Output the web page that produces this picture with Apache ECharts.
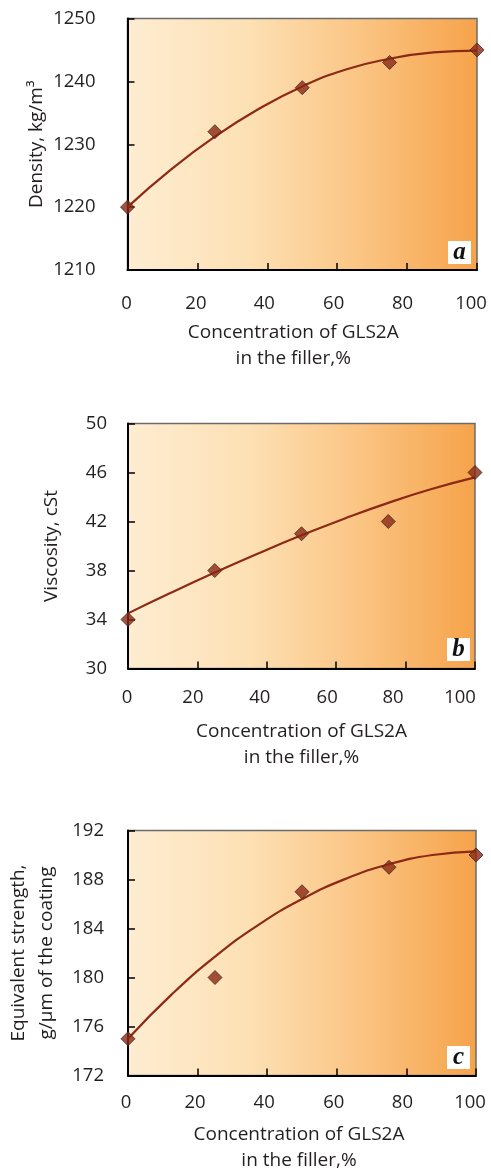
<!DOCTYPE html>
<html>
<head>
<meta charset="utf-8">
<script src="https://cdn.jsdelivr.net/npm/echarts@6/dist/echarts.min.js"></script>
<style>
  html, body { margin: 0; padding: 0; background: #fff; }
  #container { width: 491px; height: 1168px; }
</style>
</head>
<body>
<div id="container"></div>
<script>
const conc = [0, 25, 50, 75, 100]
const density = [1220, 1232, 1239, 1243, 1245]
const viscosity = [34, 38, 41, 42, 46]
const strength = [175, 180, 187, 189, 190]

// fitted trend curves
const fitConc = [0, 12.5, 25, 37.5, 50, 62.5, 75, 87.5, 100]
const densityFit = [1220, 1226.0, 1231.2, 1235.6, 1239.2, 1241.9, 1243.6, 1244.6, 1244.9]
const viscosityFit = [34.5, 36.2, 37.83, 39.39, 40.87, 42.25, 43.52, 44.65, 45.6]
const strengthFit = [175.0, 178.6, 181.7, 184.3, 186.4, 188.05, 189.25, 190.0, 190.3]

const xTicks = [0, 20, 40, 60, 80, 100]
const panels = ['a', 'b', 'c']
const xName = 'Concentration of GLS2A\nin the filler,%'
const yNames = ['Density, kg/m³', 'Viscosity, cSt', 'Equivalent strength,\ng/µm of the coating']

const dom = document.getElementById('container')
const myChart = echarts.init(dom)

const font = '"Open Sans", "Noto Sans", sans-serif'
const ink = '#231f20'
const lineColor = '#8c2a16'

const bg = new echarts.graphic.LinearGradient(0, 0, 1, 0, [
    { offset: 0, color: '#feedd2' },
    { offset: 0.35, color: '#fde0b4' },
    { offset: 0.65, color: '#fbc686' },
    { offset: 1, color: '#f6a34a' }
])

const grids = [
    { left: 127.5, right: 14, top: 18.5, height: 251.5 },
    { left: 128, right: 16, top: 423.5, height: 245 },
    { left: 128, right: 15, top: 830.5, height: 245 }
].map(g => ({
    ...g,
    show: true,
    outerBoundsMode: 'none',
    containLabel: false,
    backgroundColor: bg,
    borderColor: '#6b6b6b',
    borderWidth: 1.5
}))

// the printed tick labels sit a little left of their ticks (px, per tick)
const labelShift = [
    [1, 1.5, 3, 3.5, 4.5, 6],
    [1, 4.5, 7, 9, 12.5, 15],
    [2, 2.5, 3, 3, 4, 6]
]

function xAxis(i, labelMargin, nameGap, shift) {
    const rich = {}
    labelShift[i].forEach((s, k) => {
        rich['t' + k] = {
            color: ink, fontFamily: font, fontSize: 18.5,
            padding: [0, s * 2, 0, 0]
        }
    })
    return {
        type: 'value',
        gridIndex: i,
        min: xTicks[0],
        max: xTicks[xTicks.length - 1],
        interval: 20,
        name: xName,
        nameLocation: 'middle',
        nameGap: nameGap,
        nameTextStyle: {
            color: ink, fontFamily: font, fontSize: 19, lineHeight: 26,
            padding: [0, shift * 2, 0, 0]
        },
        axisLine: { lineStyle: { color: '#000', width: 2 } },
        axisTick: { inside: true, length: 7, lineStyle: { color: '#000', width: 1.5 } },
        axisLabel: {
            color: ink, fontFamily: font, fontSize: 18.5, margin: labelMargin,
            formatter: v => '{t' + xTicks.indexOf(v) + '|' + v + '}',
            rich: rich
        },
        splitLine: { show: false }
    }
}

function yAxis(i, min, max, interval, labelMargin, nameGap) {
    return {
        type: 'value',
        gridIndex: i,
        min: min,
        max: max,
        interval: interval,
        name: yNames[i],
        nameLocation: 'middle',
        nameGap: nameGap,
        nameMoveOverlap: false,
        nameTextStyle: { color: ink, fontFamily: font, fontSize: 19, lineHeight: 28 },
        axisLine: { show: true, lineStyle: { color: '#000', width: 2 } },
        axisTick: { inside: true, length: 7, lineStyle: { color: '#000', width: 1.5 } },
        axisLabel: {
            color: ink, fontFamily: font, fontSize: 18.5, margin: labelMargin,
            formatter: v => String(v)
        },
        splitLine: { show: false }
    }
}

function pairs(xs, ys) {
    return xs.map((x, k) => [x, ys[k]])
}

function fitSeries(i, ys) {
    return {
        type: 'line',
        xAxisIndex: i,
        yAxisIndex: i,
        smooth: 0.5,
        showSymbol: false,
        lineStyle: { color: lineColor, width: 2.2 },
        data: pairs(fitConc, ys),
        z: 2
    }
}

function pointSeries(i, ys) {
    return {
        type: 'scatter',
        xAxisIndex: i,
        yAxisIndex: i,
        symbol: 'diamond',
        symbolSize: 14,
        itemStyle: { color: '#8b2814', borderColor: '#3b2a22', borderWidth: 1 },
        data: pairs(conc, ys),
        z: 3
    }
}

const boxes = [
    { x: 448, y: 241 },
    { x: 447, y: 638 },
    { x: 447, y: 1046 }
]

const graphic = boxes.flatMap((b, i) => [
    {
        type: 'rect',
        shape: { x: b.x, y: b.y, width: 23, height: 23 },
        style: { fill: '#fff' },
        z: 10
    },
    {
        type: 'text',
        x: b.x + 11.5,
        y: b.y + 12,
        style: {
            text: panels[i],
            fill: '#111',
            font: 'italic bold 25px "Liberation Serif", "DejaVu Serif", serif',
            textAlign: 'center',
            textVerticalAlign: 'middle'
        },
        z: 11
    }
])

const option = {
    animation: false,
    backgroundColor: '#fff',
    grid: grids,
    xAxis: [xAxis(0, 24, 50, 9), xAxis(1, 20, 50, 0), xAxis(2, 18, 46, 3)],
    yAxis: [
        yAxis(0, 1210, 1250, 10, 32, 77),
        yAxis(1, 30, 50, 4, 21, 62),
        yAxis(2, 172, 192, 4, 24, 67)
    ],
    series: [
        fitSeries(0, densityFit),
        pointSeries(0, density),
        fitSeries(1, viscosityFit),
        pointSeries(1, viscosity),
        fitSeries(2, strengthFit),
        pointSeries(2, strength)
    ],
    graphic: graphic
}

myChart.setOption(option)
</script>
</body>
</html>
